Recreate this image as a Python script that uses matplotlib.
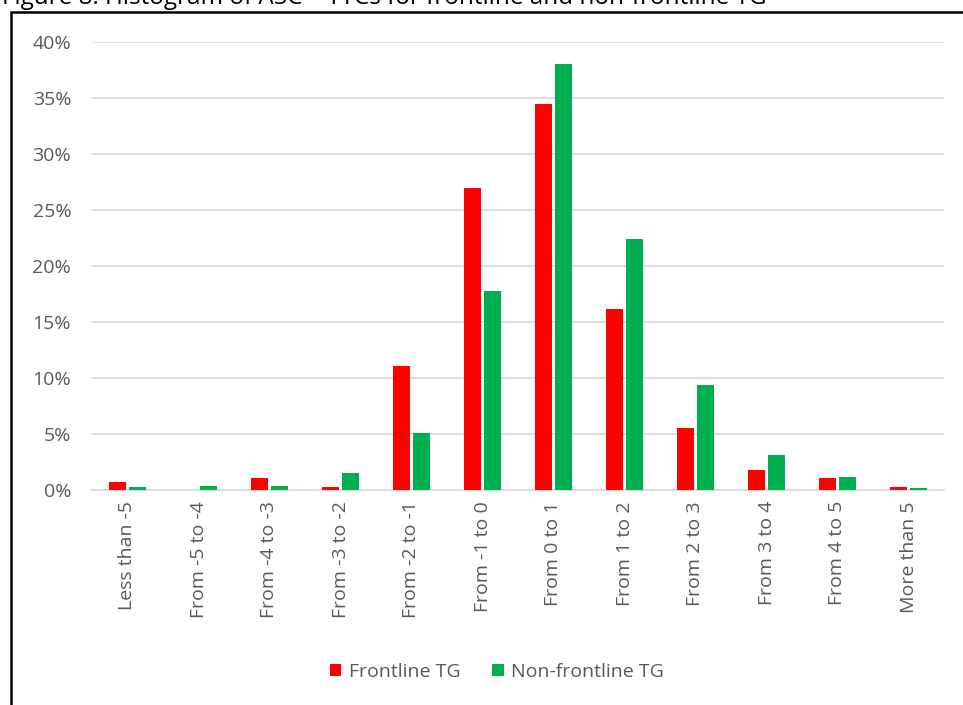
import numpy as np
import matplotlib.pyplot as plt
from matplotlib.patches import Rectangle
from matplotlib.ticker import PercentFormatter

# histogram bins and share of cases per group (%)
bins = ['Less than -5', 'From -5 to -4', 'From -4 to -3', 'From -3 to -2',
        'From -2 to -1', 'From -1 to 0', 'From 0 to 1', 'From 1 to 2',
        'From 2 to 3', 'From 3 to 4', 'From 4 to 5', 'More than 5']
frontline = [0.7, 0.0, 1.1, 0.3, 11.1, 27.0, 34.5, 16.2, 5.5, 1.8, 1.1, 0.3]
non_frontline = [0.3, 0.4, 0.4, 1.5, 5.1, 17.8, 38.0, 22.4, 9.4, 3.1, 1.2, 0.2]

plt.rcParams['font.family'] = ['Open Sans', 'DejaVu Sans']
grey = '#595959'

fig = plt.figure(figsize=(9.63, 7.05), dpi=100)
ax = fig.add_axes([92 / 963, 1 - 490 / 705, 852 / 963, 448 / 705])

x = np.arange(len(bins))
w = 0.23
ax.bar(x - 0.14, frontline, w, color='#ff0000', label='Frontline TG', zorder=3)
ax.bar(x + 0.14, non_frontline, w, color='#00b050', label='Non-frontline TG', zorder=3)

ax.set_xlim(-0.5, len(bins) - 0.5)
ax.set_ylim(0, 40)
ax.set_yticks(np.arange(0, 41, 5))
ax.yaxis.set_major_formatter(PercentFormatter(decimals=0))
ax.set_xticks(x)
ax.set_xticklabels(bins, rotation=90)
ax.tick_params(axis='both', length=0, labelsize=14, colors=grey)
ax.tick_params(axis='y', pad=15)
ax.tick_params(axis='x', pad=8)
ax.grid(axis='y', color='#d9d9d9', linewidth=1.3, zorder=0)
for s in ['top', 'right', 'left']:
    ax.spines[s].set_visible(False)
ax.spines['bottom'].set_color('#d9d9d9')
ax.spines['bottom'].set_linewidth(1.3)

leg = fig.legend(loc='center', bbox_to_anchor=(497 / 963, 1 - 672 / 705), ncol=2,
                 frameon=False, fontsize=14, handlelength=0.6, handleheight=0.6,
                 columnspacing=1.6, handletextpad=0.4)
for t in leg.get_texts():
    t.set_color(grey)

# outer frame and caption running off the top edge
fig.patches.append(Rectangle((11 / 963, -0.05), 1.1, 1 - 12 / 705 + 0.05,
                             transform=fig.transFigure, fill=False,
                             edgecolor='black', linewidth=1.8))
fig.text(2 / 963, 1 - 4 / 705, 'Figure 8: Histogram of ASC \u2013 TTCs for frontline and non-frontline TG',
         fontsize=17.5, va='baseline', ha='left', color='black')

fig.savefig('out.png', dpi=100)
